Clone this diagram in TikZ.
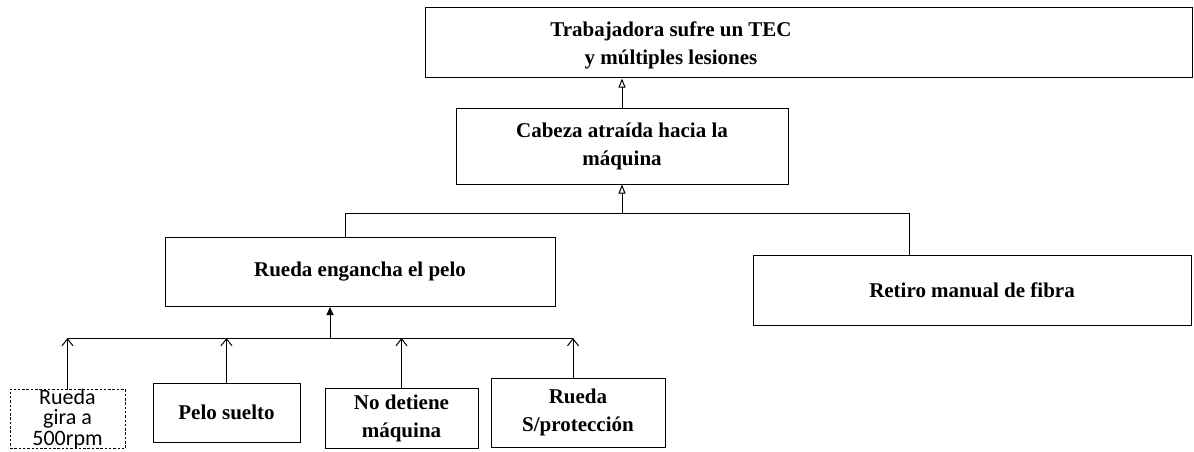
\documentclass[tikz,border=0pt]{standalone}
\usepackage{fontspec}
\setmainfont{Liberation Serif}
\newfontfamily\calib{Carlito}
\usetikzlibrary{arrows.meta,calc}
\begin{document}
\begin{tikzpicture}[x=1pt,y=-1pt,
  line width=1pt,
  txt/.style={font=\fontsize{21}{28}\selectfont\bfseries},
  box/.style={draw, rectangle, inner sep=0pt, align=center, txt},
  dashbox/.style={draw, rectangle, inner sep=0pt, align=center,
    dash pattern=on 2.5pt off 1.8pt,
    font=\calib\fontsize{22}{20.5}\selectfont},
  upfill/.style={-{Triangle[length=8pt,width=7pt]}},
  upopen/.style={-{Triangle[open,length=9pt,width=7pt]}},
  upbarb/.style={-{Straight Barb[length=7pt,width=11pt]}}]
\useasboundingbox (0,0) rectangle (1194,452);

% effect chain
\node[box, minimum width=767pt, minimum height=70pt] (top) at (808.5,43) {};
\node[txt, align=center, inner sep=0pt]
  (toptxt) at (671,45) {Trabajadora sufre un TEC\\y múltiples lesiones};
\node[box, minimum width=332pt, minimum height=76pt] (cab) at (622,146)
  {Cabeza atraída hacia la\\máquina};

% second level
\node[box, minimum width=390pt, minimum height=69pt] (rueda) at (360,272)
  {Rueda engancha el pelo};
\node[box, minimum width=438pt, minimum height=70pt] (retiro) at (972,290)
  {Retiro manual de fibra};

% basic causes
\node[dashbox, minimum width=115pt, minimum height=58pt] (gira) at (67.5,419)
  {Rueda\\gira a\\500rpm};
\node[box, minimum width=147pt, minimum height=59pt] (pelo) at (226.5,412.5)
  {Pelo suelto};
\node[box, minimum width=153pt, minimum height=60pt] (nodet) at (401.5,418)
  {No detiene\\máquina};
\node[box, minimum width=174pt, minimum height=69pt] (sprot) at (578,412.5)
  {Rueda\\S/protección};

% bars of the two gates
\coordinate (upbar) at (0,213);
\coordinate (lowbar) at (0,338);
\coordinate (rl) at ([xshift=-15pt]rueda.north);
\coordinate (rr) at ([xshift=-63pt]retiro.north);
\coordinate (rs) at ([xshift=-30pt]rueda.south);
\coordinate (sp) at ([xshift=-5pt]sprot.north);

\draw[upopen] (cab.north) -- (top.south -| cab.north);
\draw[upopen] (cab.south |- upbar) -- (cab.south);
\draw (rl) -- (rl |- upbar) -- (rr |- upbar) -- (rr);

\draw[upfill] (rs |- lowbar) -- (rs);
\draw (gira.north |- lowbar) -- (sp |- lowbar);
\draw[upbarb] (gira.north) -- (gira.north |- lowbar);
\draw[upbarb] (pelo.north) -- (pelo.north |- lowbar);
\draw[upbarb] (nodet.north) -- (nodet.north |- lowbar);
\draw[upbarb] (sp) -- (sp |- lowbar);
\end{tikzpicture}
\end{document}
